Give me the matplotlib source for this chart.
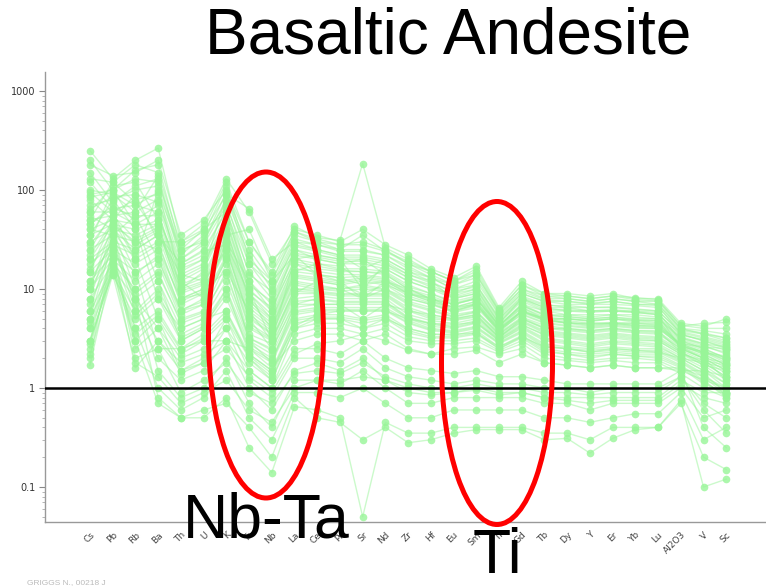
#!/usr/bin/env python3
"""Spider diagram - basaltic andesite, normalised trace elements."""

import matplotlib
matplotlib.use("Agg")
import matplotlib.pyplot as plt
from matplotlib.patches import Ellipse

elements = ["Cs", "Pb", "Rb", "Ba", "Th", "U", "K", "Ta", "Nb", "La", "Ce", "Pr",
            "Sr", "Nd", "Zr", "Hf", "Eu", "Sm", "Ti", "Gd", "Tb", "Dy", "Y", "Er",
            "Yb", "Lu", "Al2O3", "V", "Sc"]

# normalised values, one list per sample (order as in `elements`)
high_samples = [
    [250, 130, 200, 265, 30, 45, 130, 60, 18, 40, 35, 30, 40, 28, 22, 16, 13, 17, 6.5, 12, 9, 9, 8.5, 9, 8, 8, 4.5, 4.2, 5],
    [180, 140, 150, 200, 35, 50, 100, 30, 15, 43, 33, 31, 185, 26, 20, 15, 12, 15, 6, 11, 9, 8.5, 8, 8.5, 8.2, 7.8, 4.2, 4.5, 4.6],
    [130, 120, 180, 150, 28, 38, 90, 25, 12, 35, 30, 28, 30, 25, 18, 14, 11, 14, 5.8, 10, 8, 8, 7.5, 8, 7.5, 7, 4, 3.8, 3.5],
    [90, 100, 130, 120, 25, 30, 80, 22, 10, 30, 28, 25, 25, 22, 16, 13, 10, 12, 5.5, 9, 7.5, 7, 7, 7, 6.8, 6.5, 3.8, 3.5, 3],
    [70, 80, 100, 110, 20, 28, 70, 18, 9, 28, 25, 22, 22, 20, 15, 12, 9, 11, 5, 8.5, 7, 6.5, 6.5, 6.5, 6.2, 6, 3.6, 3.2, 2.8],
    [60, 60, 80, 90, 18, 25, 60, 15, 8, 25, 22, 20, 20, 18, 13, 11, 8.5, 10, 4.8, 8, 6.5, 6, 6, 6, 5.8, 5.5, 3.5, 3, 2.6],
    [50, 55, 60, 80, 15, 20, 55, 12, 7, 22, 20, 18, 18, 16, 12, 10, 8, 9, 4.5, 7.5, 6, 5.5, 5.5, 5.5, 5.5, 5.2, 3.3, 2.8, 2.4],
    [45, 70, 50, 70, 14, 18, 50, 10, 6, 20, 18, 16, 16, 15, 11, 9, 7.5, 8.5, 4.3, 7, 5.5, 5.2, 5, 5.2, 5, 5, 3.2, 2.7, 2.2],
    [40, 50, 45, 60, 12, 16, 45, 9, 5.5, 18, 16, 15, 15, 14, 10, 8.5, 7, 8, 4.2, 6.5, 5.2, 5, 4.8, 5, 4.8, 4.6, 3, 2.5, 2],
    [35, 45, 40, 50, 11, 14, 40, 8, 5, 16, 15, 14, 14, 13, 9.5, 8, 6.5, 7.5, 4, 6, 5, 4.8, 4.5, 4.6, 4.5, 4.4, 2.9, 2.4, 1.9],
    [30, 40, 35, 45, 10, 12, 35, 7, 4.5, 14, 13, 12, 13, 12, 9, 7.5, 6, 7, 3.9, 5.8, 4.8, 4.5, 4.2, 4.4, 4.2, 4.1, 2.8, 2.3, 1.8],
    [25, 35, 30, 40, 9, 11, 30, 6, 4, 13, 12, 11, 12, 11, 8, 7, 5.8, 6.5, 3.8, 5.5, 4.5, 4.2, 4, 4.2, 4, 4, 2.7, 2.2, 1.7],
    [20, 30, 25, 35, 8, 10, 28, 5.5, 3.8, 12, 11, 10, 11, 10, 7.5, 6.5, 5.5, 6, 3.6, 5.2, 4.3, 4, 3.8, 4, 3.8, 3.7, 2.6, 2.1, 1.6],
    [18, 28, 22, 30, 7, 9, 25, 5, 3.5, 11, 10, 9.5, 10, 9.5, 7, 6, 5.2, 5.8, 3.5, 5, 4, 3.8, 3.6, 3.8, 3.6, 3.5, 2.5, 2, 1.5],
    [15, 25, 18, 25, 6, 8, 22, 4.5, 3.2, 10, 9.5, 9, 9, 9, 6.5, 5.5, 5, 5.5, 3.4, 4.8, 3.8, 3.6, 3.4, 3.6, 3.4, 3.3, 2.4, 1.9, 1.4],
    [12, 22, 15, 20, 5.5, 7, 20, 4, 3, 9, 9, 8.5, 8.5, 8.5, 6, 5, 4.8, 5.2, 3.3, 4.6, 3.6, 3.4, 3.2, 3.4, 3.2, 3.1, 2.3, 1.8, 1.3],
    [10, 20, 12, 18, 5, 6, 18, 3.5, 2.8, 8, 8.5, 8, 8, 8, 5.5, 4.8, 4.5, 5, 3.2, 4.4, 3.4, 3.2, 3, 3.2, 3, 3, 2.2, 1.7, 1.2],
    [8, 18, 10, 15, 4.5, 5.5, 15, 3.2, 2.5, 7, 8, 7.5, 7.5, 7.5, 5.2, 4.5, 4.2, 4.8, 3.1, 4.2, 3.2, 3, 2.8, 3, 2.9, 2.8, 2.1, 1.6, 1.1],
    [6, 16, 8, 12, 4, 5, 12, 3, 2.2, 6.5, 7, 7, 7, 7, 5, 4.2, 4, 4.5, 3, 4, 3, 2.8, 2.6, 2.8, 2.7, 2.6, 2, 1.5, 1],
    [5, 15, 6, 10, 3.5, 4.5, 10, 2.8, 2, 6, 6.5, 6.5, 6.5, 6.5, 4.8, 4, 3.8, 4.2, 2.9, 3.8, 2.8, 2.6, 2.5, 2.6, 2.5, 2.5, 1.9, 1.4, 0.9],
    [4, 14, 5, 8, 3, 4, 8, 2.5, 1.8, 5.5, 6, 6, 6, 6, 4.5, 3.8, 3.6, 4, 2.8, 3.6, 2.6, 2.5, 2.3, 2.5, 2.4, 2.3, 1.8, 1.3, 0.85],
    [3, 15, 4, 6, 2.5, 3.5, 6, 2.2, 1.5, 5, 5.5, 5.5, 5, 5.5, 4, 3.5, 3.4, 3.8, 2.6, 3.4, 2.5, 2.3, 2.2, 2.3, 2.2, 2.2, 1.7, 1.2, 0.8],
    [2.5, 20, 3, 5, 2.2, 3, 5, 2, 1.3, 4.5, 5, 5, 4.5, 5, 3.6, 3.2, 3.2, 3.5, 2.5, 3.2, 2.3, 2.2, 2, 2.2, 2.1, 2, 1.6, 1.1, 0.9],
    [2, 25, 2.5, 4, 2, 2.5, 4, 1.8, 1.2, 4, 4.5, 4.5, 4, 4.5, 3.3, 3, 3, 3.2, 2.4, 3, 2.2, 2, 1.9, 2, 2, 1.9, 1.5, 1.2, 1],
    [1.7, 18, 1.6, 3, 1.8, 2.2, 3, 1.5, 1, 3.5, 4, 4, 3.5, 4, 3, 2.8, 2.8, 3, 2.3, 2.8, 2, 1.9, 1.8, 1.9, 1.8, 1.8, 1.4, 1, 0.8],
]

mid_samples = [
    [100, 90, 60, 140, 22, 35, 110, 20, 12, 38, 30, 25, 35, 24, 18, 15, 12, 14, 6, 10, 8.5, 8, 7.5, 8, 7.5, 7.5, 4, 3.5, 3.2],
    [60, 110, 120, 50, 16, 20, 40, 8, 4, 15, 18, 17, 12, 16, 12, 10, 9, 10, 4.5, 8, 6.5, 6.5, 6, 6, 6, 5.8, 3, 2.5, 2],
    [25, 60, 20, 100, 12, 8, 30, 12, 6, 25, 20, 18, 20, 14, 10, 8, 7, 8, 4, 6.5, 5, 4.5, 4.5, 4.5, 4.5, 4.3, 2.8, 2.6, 2.5],
    [10, 45, 30, 25, 8, 10, 15, 6, 3, 10, 10, 10, 8, 10, 8, 7, 6, 7, 3.8, 6, 5, 5, 4.8, 5, 4.8, 4.8, 2.6, 2, 1.2],
    [40, 35, 55, 20, 6, 7, 20, 3, 1.8, 7, 7, 7, 5, 7, 6, 5.5, 5, 5.5, 3.2, 5, 4, 4, 3.8, 4, 3.8, 3.8, 2.3, 1.7, 1.5],
    [3, 25, 2, 2.5, 2.5, 3, 3, 2.5, 1.6, 3, 3.5, 3.5, 3, 3.5, 2.5, 2.2, 2.5, 2.6, 2.2, 2.5, 1.8, 1.7, 1.6, 1.7, 1.6, 1.6, 1.5, 1.5, 1.3],
    [80, 50, 90, 30, 30, 40, 60, 10, 3, 20, 22, 20, 10, 18, 14, 12, 8, 9, 4.2, 7, 6, 6, 5.8, 6, 5.8, 5.5, 2.5, 2, 1.8],
    [120, 65, 70, 60, 10, 15, 90, 65, 20, 30, 25, 22, 16, 20, 15, 13, 10, 11, 5.2, 9, 7.5, 7.5, 7, 7.5, 7, 6.8, 3.5, 3, 2.5],
    [35, 80, 40, 8, 4, 5, 6, 2, 1.2, 4, 5, 5, 4, 5, 4, 3.5, 3.5, 3.6, 2.6, 3.3, 2.6, 2.5, 2.3, 2.4, 2.3, 2.3, 2, 1.8, 1.6],
    [55, 40, 25, 35, 14, 12, 25, 5, 2.5, 9, 12, 11, 9, 11, 9, 8, 6.5, 7.5, 3.8, 6.2, 5, 5, 4.7, 5, 4.6, 4.5, 2.7, 2.3, 2],
    [200, 100, 160, 180, 25, 40, 120, 30, 14, 38, 32, 28, 28, 24, 19, 15, 12, 16, 6.2, 11, 8.5, 8.5, 8, 8.5, 7.8, 7.6, 4.3, 4, 4],
    [150, 75, 110, 130, 20, 30, 95, 18, 11, 32, 28, 24, 24, 22, 17, 13, 11, 13, 5.6, 9.5, 7.8, 7.5, 7.2, 7.5, 7, 7, 3.9, 3.6, 3.2],
    [85, 95, 70, 95, 24, 32, 75, 14, 9.5, 27, 24, 21, 21, 19, 14, 11.5, 9.5, 10.5, 5, 8.2, 6.8, 6.8, 6.5, 6.6, 6.3, 6, 3.7, 3.3, 2.9],
    [65, 85, 90, 75, 17, 22, 65, 11, 7.5, 23, 21, 19, 19, 17, 13, 10.5, 8.2, 9.5, 4.6, 7.8, 6.2, 6.2, 6, 6.2, 5.9, 5.6, 3.4, 3.1, 2.7],
    [45, 65, 55, 55, 13, 17, 48, 9.5, 6.5, 19, 17, 15.5, 15, 14.5, 10.5, 9, 7.2, 8.2, 4.3, 6.8, 5.4, 5.3, 5, 5.2, 4.9, 4.8, 3.1, 2.6, 2.3],
    [28, 55, 32, 42, 10.5, 13, 38, 7.5, 4.8, 15, 14, 13, 13.5, 12.5, 9.2, 7.8, 6.2, 7.2, 4, 5.9, 4.9, 4.6, 4.4, 4.5, 4.3, 4.2, 2.8, 2.3, 1.9],
    [22, 48, 28, 38, 9.5, 11.5, 32, 6.5, 4.2, 13.5, 12.5, 11.5, 12.5, 11.5, 8.5, 7.2, 5.9, 6.8, 3.8, 5.6, 4.6, 4.3, 4.1, 4.3, 4.1, 4, 2.7, 2.2, 1.7],
    [16, 38, 20, 28, 7.5, 9.5, 26, 5.2, 3.6, 11.5, 10.5, 10, 10.5, 9.8, 7.2, 6.2, 5.3, 5.9, 3.5, 5.1, 4.1, 3.9, 3.7, 3.9, 3.7, 3.6, 2.5, 2, 1.5],
    [11, 32, 14, 22, 6.2, 7.5, 21, 4.2, 3.1, 9.5, 9.2, 8.8, 8.8, 8.8, 6.2, 5.2, 4.9, 5.3, 3.3, 4.7, 3.7, 3.5, 3.3, 3.5, 3.3, 3.2, 2.3, 1.8, 1.3],
    [7, 26, 9, 14, 4.8, 5.8, 14, 3.2, 2.4, 7.5, 7.8, 7.3, 7.3, 7.3, 5.1, 4.4, 4.1, 4.6, 3, 4.1, 3.1, 2.9, 2.7, 2.9, 2.8, 2.7, 2, 1.5, 1.1],
    [4.5, 22, 5.5, 9, 3.2, 4.2, 9, 2.6, 1.9, 5.8, 6.2, 6.2, 6.2, 6.2, 4.6, 3.9, 3.7, 4.1, 2.85, 3.7, 2.7, 2.5, 2.4, 2.5, 2.4, 2.4, 1.85, 1.35, 0.9],
    [2.8, 17, 3.5, 5.5, 2.4, 3.2, 5.5, 2.1, 1.4, 4.8, 5.2, 5.2, 4.8, 5.2, 3.8, 3.3, 3.3, 3.6, 2.5, 3.3, 2.4, 2.2, 2.1, 2.2, 2.1, 2.1, 1.65, 1.15, 0.85],
    [30, 100, 45, 12, 3, 4, 10, 2.2, 1.5, 4.2, 5.5, 6, 6, 6, 5, 4.5, 4.4, 4.6, 3.1, 4.3, 3.5, 3.3, 3.1, 3.3, 3.1, 3, 2.2, 1.9, 1.7],
    [95, 60, 45, 45, 8, 9, 35, 40, 12, 22, 14, 12, 8, 12, 10, 8, 7, 8, 4.2, 6.8, 5.5, 5.5, 5.2, 5.5, 5.2, 5, 3.2, 2.8, 2.6],
    [50, 120, 75, 35, 18, 24, 28, 9, 5, 18, 14, 13, 11, 12, 9, 7.5, 6.5, 7, 3.6, 6, 4.8, 4.6, 4.3, 4.5, 4.3, 4.2, 2.6, 2.3, 2.1],
]

low_samples = [
    [5, 30, 6, 2, 1.2, 1.5, 3, 1, 0.6, 1.5, 1.8, 1.5, 2, 1.2, 1, 0.9, 0.9, 1, 0.9, 0.9, 0.8, 0.8, 0.8, 0.8, 0.8, 0.8, 1.2, 0.9, 0.9],
    [8, 40, 10, 1.5, 0.8, 1, 2, 0.7, 0.4, 1.2, 1.2, 1.1, 1.5, 1, 0.7, 0.7, 0.8, 0.8, 0.8, 0.8, 0.7, 0.7, 0.6, 0.7, 0.7, 0.7, 1, 0.5, 0.6],
    [4, 20, 4, 1, 0.6, 0.8, 1.5, 0.5, 0.3, 0.9, 0.9, 0.8, 1, 0.7, 0.5, 0.5, 0.6, 0.6, 0.6, 0.6, 0.5, 0.5, 0.45, 0.5, 0.55, 0.55, 0.9, 0.3, 0.4],
    [3, 15, 3, 0.7, 0.5, 0.5, 0.8, 0.25, 0.14, 0.65, 0.6, 0.5, 0.05, 0.45, 0.35, 0.35, 0.4, 0.4, 0.4, 0.4, 0.35, 0.35, 0.3, 0.4, 0.4, 0.4, 0.7, 0.2, 0.15],
    [10, 25, 8, 0.8, 0.5, 0.6, 0.7, 0.4, 0.2, 0.8, 0.5, 0.45, 0.3, 0.4, 0.28, 0.3, 0.35, 0.38, 0.38, 0.38, 0.3, 0.31, 0.22, 0.31, 0.38, 0.4, 0.75, 0.1, 0.12],
    [6, 35, 7, 3, 1.5, 1.8, 4, 1.2, 0.8, 2, 2, 1.8, 2.5, 1.6, 1.3, 1.2, 1.1, 1.2, 1.1, 1.1, 1, 1, 0.9, 1, 1, 1, 1.3, 0.7, 0.5],
    [15, 50, 20, 5, 1.5, 2, 5, 1.5, 1, 2.5, 2.5, 2.2, 3, 2, 1.6, 1.5, 1.4, 1.5, 1.3, 1.3, 1.2, 1.1, 1.1, 1.1, 1.1, 1.1, 1.5, 0.4, 0.25],
    [12, 30, 8, 4, 1.4, 1.8, 2.5, 1.3, 0.9, 2.2, 2.8, 3, 3.5, 3, 2.4, 2.2, 2.2, 2.4, 1.8, 2.2, 1.8, 1.7, 1.6, 1.7, 1.6, 1.6, 1.6, 1.3, 1],
    [20, 45, 15, 2.5, 0.9, 1.2, 1.8, 0.9, 0.7, 1.4, 1.5, 1.4, 1.8, 1.3, 1.1, 1, 1, 1.1, 1, 1, 0.9, 0.9, 0.85, 0.9, 0.9, 0.9, 1.3, 0.6, 0.35],
    [2.2, 14, 1.8, 1.3, 0.7, 0.9, 1.2, 0.6, 0.45, 1, 1.2, 1.2, 1.3, 1.2, 0.9, 0.85, 0.9, 0.95, 0.85, 0.9, 0.8, 0.75, 0.7, 0.75, 0.75, 0.75, 1.1, 0.8, 0.7],
]

GREEN = "#98f598"

fig = plt.figure(figsize=(7.66, 5.87), dpi=100)
ax = fig.add_axes([45 / 766, 1 - 522 / 587, 1 - 45 / 766, (522 - 72) / 587])

x = list(range(len(elements)))
for sample in high_samples + mid_samples + low_samples:
    ax.plot(x, sample, color=GREEN, lw=1.0, alpha=0.5, zorder=2)
    ax.plot(x, sample, ls="none", marker="o", ms=5.5, mfc=GREEN, mec="none",
            alpha=0.8, zorder=3)

ax.axhline(1, color="black", lw=1.8, zorder=4)

ax.set_yscale("log")
ax.set_ylim(0.0443, 1556)
ax.set_xlim(-1.98, 29.75)
ax.set_yticks([0.1, 1, 10, 100, 1000])
ax.set_yticklabels(["0.1", "1", "10", "100", "1000"], fontsize=7, color="#333333")
ax.set_xticks(x)
ax.set_xticklabels(elements, rotation=45, ha="right", rotation_mode="anchor",
                   fontsize=6.5, color="#444444")
ax.tick_params(axis="x", length=0, pad=6)
ax.tick_params(axis="y", which="major", length=4, color="#888888", pad=3)
ax.tick_params(axis="y", which="minor", length=2, color="#aaaaaa")
for side in ("top", "right"):
    ax.spines[side].set_visible(False)
for side in ("left", "bottom"):
    ax.spines[side].set_color("#999999")
    ax.spines[side].set_linewidth(1.0)

# red ellipses around the Nb-Ta and Ti troughs (figure coordinates)
for cx, cy, w, h in [(266, 335, 115, 326), (497, 363, 111, 323)]:
    fig.patches.append(Ellipse((cx / 766, 1 - cy / 587), w / 766, h / 587,
                               transform=fig.transFigure, fill=False,
                               ec="#ff0000", lw=3.6, zorder=10))

fig.text(448 / 766, 1 - 36 / 587, "Basaltic Andesite", fontsize=46,
         family="Liberation Sans", ha="center", va="center")
fig.text(266 / 766, 1 - 537 / 587, "Nb-Ta", fontsize=45,
         family="Liberation Sans", ha="center", va="baseline", zorder=11)
fig.text(497 / 766, 1 / 587, "Ti", fontsize=45,
         family="Liberation Sans", ha="center", va="bottom", zorder=11)
fig.text(27 / 766, 1 - 586 / 587, "GRIGGS N., 00218 J", fontsize=6,
         color="#bbbbbb", family="Liberation Sans", ha="left", va="bottom")

fig.savefig("out.png", dpi=100)
